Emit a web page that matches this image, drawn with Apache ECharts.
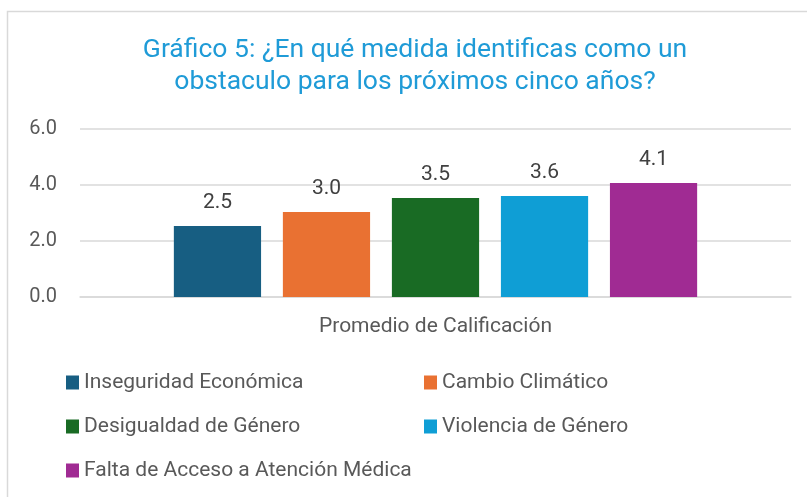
<!DOCTYPE html>
<html>
<head>
<meta charset="utf-8">
<script src="https://cdn.jsdelivr.net/npm/echarts@6/dist/echarts.min.js"></script>
<style>
  body { margin: 0; background: #fff; }
  #main { width: 807px; height: 497px; }
</style>
</head>
<body>
<div id="main"></div>
<script>
// datos
var categories = ['Promedio de Calificación']
var seriesNames = [
  'Inseguridad Económica',
  'Cambio Climático',
  'Desigualdad de Género',
  'Violencia de Género',
  'Falta de Acceso a Atención Médica'
]
var seriesValues = [2.54, 3.04, 3.54, 3.61, 4.07]
var colors = ['#175e82', '#e97132', '#196b24', '#0f9ed5', '#a02b93']
var yTicks = [0, 2, 4, 6]

var font = 'Roboto, "Noto Sans", sans-serif'
var myChart = echarts.init(document.getElementById('main'))

var series = seriesNames.map(function (name, i) {
  return {
    name: name,
    type: 'bar',
    data: [seriesValues[i]],
    itemStyle: { color: colors[i] },
    barGap: '25%',
    barCategoryGap: '26.4%',
    label: {
      show: true,
      position: 'top',
      distance: 13,
      color: '#404040',
      fontSize: 21,
      fontFamily: font,
      formatter: function (p) { return p.value.toFixed(1) }
    }
  }
})

var legendText = { color: '#595959', fontSize: 21, fontFamily: font }

myChart.setOption({
  animation: false,
  color: colors,
  title: {
    text: 'Gráfico 5: ¿En qué medida identificas como un\nobstaculo para los próximos cinco años?',
    left: 410,
    textAlign: 'center',
    top: 29,
    textStyle: {
      color: '#1f9bd7',
      fontSize: 26.5,
      fontWeight: 'normal',
      fontFamily: font,
      lineHeight: 32
    }
  },
  graphic: [
    {
      type: 'rect',
      shape: { x: 7.5, y: 11.5, width: 900, height: 600 },
      style: { fill: 'none', stroke: '#d9d9d9', lineWidth: 1.5 },
      silent: true
    }
  ],
  // dos columnas de leyenda
  legend: [
    {
      data: [seriesNames[0], seriesNames[2], seriesNames[4]],
      orient: 'vertical',
      left: 61,
      top: 367,
      itemGap: 23,
      itemWidth: 13,
      itemHeight: 14,
      icon: 'rect',
      textStyle: legendText
    },
    {
      data: [seriesNames[1], seriesNames[3]],
      orient: 'vertical',
      left: 419,
      top: 367,
      itemGap: 23,
      itemWidth: 13,
      itemHeight: 14,
      icon: 'rect',
      textStyle: legendText
    }
  ],
  grid: {
    left: 80,
    right: 16,
    top: 129,
    bottom: 200,
    containLabel: false
  },
  xAxis: {
    type: 'category',
    data: categories,
    axisTick: { show: false },
    axisLine: { lineStyle: { color: '#d9d9d9', width: 1.5 } },
    axisLabel: {
      color: '#595959',
      fontSize: 21,
      fontFamily: font,
      margin: 19
    }
  },
  yAxis: {
    type: 'value',
    min: yTicks[0],
    max: yTicks[yTicks.length - 1],
    interval: 2,
    axisLine: { show: false },
    axisTick: { show: false },
    splitLine: { lineStyle: { color: '#d9d9d9', width: 1.5 } },
    axisLabel: {
      color: '#595959',
      fontSize: 20,
      fontFamily: font,
      margin: 23,
      formatter: function (v) { return v.toFixed(1) }
    }
  },
  series: series
})
</script>
</body>
</html>
